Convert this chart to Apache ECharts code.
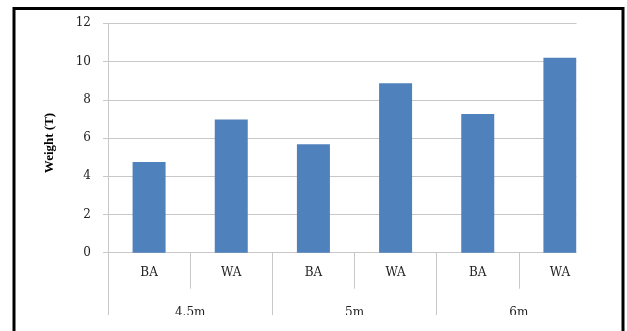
<!DOCTYPE html>
<html>
<head>
<meta charset="utf-8">
<script src="https://cdn.jsdelivr.net/npm/echarts@6/dist/echarts.min.js"></script>
<style>
  html, body { margin: 0; padding: 0; background: #fff; }
  #chart { width: 627px; height: 331px; }
</style>
</head>
<body>
<div id="chart"></div>
<script>
// categories and values
var types = ['BA', 'WA', 'BA', 'WA', 'BA', 'WA']
var groups = ['4.5m', '5m', '6m']
var weights = [4.75, 6.97, 5.67, 8.86, 7.25, 10.2]
var yTicks = { min: 0, max: 12, step: 2 }

var gray = '#c8c8c8'
var serif = 'DejaVu Serif'

var chart = echarts.init(document.getElementById('chart'))
var option = {
  animation: false,
  grid: {
    left: 108,
    top: 23.3,
    width: 493,
    height: 229.4
  },
  xAxis: [
    {
      type: 'category',
      position: 'bottom',
      data: types,
      axisLine: { show: true, lineStyle: { color: gray } },
      axisTick: { show: true, interval: 0, length: 36, lineStyle: { color: gray } },
      axisLabel: { interval: 0, margin: 14, color: '#222', fontFamily: serif, fontSize: 12 }
    },
    {
      type: 'category',
      position: 'bottom',
      data: groups,
      axisLine: { show: false },
      axisTick: { show: true, interval: 0, length: 66, lineStyle: { color: gray } },
      axisLabel: { interval: 0, margin: 54, color: '#222', fontFamily: serif, fontSize: 12 }
    }
  ],
  yAxis: {
    type: 'value',
    min: yTicks.min,
    max: yTicks.max,
    interval: yTicks.step,
    name: 'Weight (T)',
    nameLocation: 'middle',
    nameGap: 52,
    nameTextStyle: { fontFamily: 'Liberation Serif', fontWeight: 'bold', fontSize: 13, color: '#000', padding: [0, 10, 0, 0] },
    axisLine: { show: true, lineStyle: { color: gray } },
    axisTick: { show: true, length: 5, lineStyle: { color: gray } },
    axisLabel: { margin: 17, color: '#222', fontFamily: serif, fontSize: 12 },
    splitLine: { lineStyle: { color: gray } }
  },
  series: [
    {
      type: 'bar',
      xAxisIndex: 0,
      data: weights,
      barWidth: 33,
      itemStyle: { color: '#4f81bd' }
    }
  ],
  graphic: [
    // the source picture is cut on the right and bottom
    { type: 'rect', z: 100, shape: { x: 576.5, y: 10, width: 45, height: 330 }, style: { fill: '#fff' } },
    { type: 'rect', z: 100, shape: { x: 16, y: 315, width: 606, height: 30 }, style: { fill: '#fff' } },
    { type: 'rect', z: 101, shape: { x: 14, y: 8.5, width: 609, height: 340 }, style: { fill: 'none', stroke: '#000', lineWidth: 3 } }
  ]
}
chart.setOption(option)
</script>
</body>
</html>
